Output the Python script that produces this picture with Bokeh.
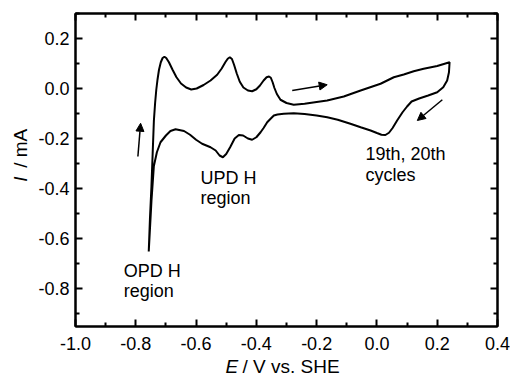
import math
from bokeh.plotting import figure
from bokeh.layouts import column, row
from bokeh.models import (Range1d, FixedTicker, LinearAxis, NumeralTickFormatter,
                          Label, Arrow, NormalHead, ColumnDataSource)
from bokeh.embed import file_html
from bokeh.resources import INLINE

# ---- data ----
# anodic sweep: from the OPD H turning point up to the positive vertex
anodic_E = [-0.757, -0.753, -0.748, -0.744, -0.740, -0.736, -0.732, -0.728, -0.723, -0.717,
            -0.711, -0.705, -0.699, -0.690, -0.678, -0.665, -0.650, -0.633, -0.616, -0.598,
            -0.575, -0.552, -0.530, -0.515, -0.503, -0.495, -0.488, -0.481, -0.474, -0.465,
            -0.455, -0.443, -0.428, -0.414, -0.400, -0.388, -0.376, -0.366, -0.358, -0.352,
            -0.346, -0.340, -0.332, -0.320, -0.300, -0.276, -0.240, -0.200, -0.165, -0.110,
            -0.054, 0.012, 0.056, 0.089, 0.122, 0.155, 0.200, 0.241]
anodic_I = [-0.652, -0.52, -0.39, -0.26, -0.13, -0.06, -0.005, 0.035, 0.075, 0.105,
            0.122, 0.127, 0.122, 0.105, 0.075, 0.045, 0.020, 0.004, -0.004, 0.000,
            0.014, 0.032, 0.055, 0.080, 0.105, 0.119, 0.125, 0.118, 0.095, 0.060,
            0.027, 0.004, -0.008, -0.011, -0.003, 0.012, 0.032, 0.045, 0.048, 0.043,
            0.025, 0.002, -0.022, -0.045, -0.058, -0.065, -0.061, -0.054, -0.048, -0.032,
            -0.008, 0.019, 0.045, 0.056, 0.069, 0.079, 0.090, 0.105]
# cathodic sweep: from the positive vertex back down to the OPD H region
cathodic_E = [0.241, 0.239, 0.233, 0.220, 0.200, 0.170, 0.140, 0.115, 0.100, 0.085,
              0.067, 0.052, 0.040, 0.028, 0.015, 0.000, -0.021, -0.054, -0.088, -0.130,
              -0.165, -0.200, -0.240, -0.276, -0.309, -0.330, -0.342, -0.352, -0.364, -0.376,
              -0.386, -0.400, -0.414, -0.428, -0.444, -0.458, -0.472, -0.487, -0.500, -0.511,
              -0.522, -0.535, -0.552, -0.566, -0.580, -0.600, -0.620, -0.640, -0.668, -0.685,
              -0.700, -0.718, -0.730, -0.740, -0.748, -0.757]
cathodic_I = [0.105, 0.065, 0.032, 0.005, -0.015, -0.028, -0.040, -0.052, -0.072, -0.095,
              -0.128, -0.158, -0.177, -0.186, -0.185, -0.178, -0.168, -0.155, -0.141, -0.125,
              -0.115, -0.108, -0.102, -0.099, -0.101, -0.104, -0.108, -0.120, -0.135, -0.158,
              -0.175, -0.195, -0.205, -0.200, -0.188, -0.186, -0.200, -0.235, -0.262, -0.275,
              -0.268, -0.248, -0.235, -0.228, -0.221, -0.205, -0.185, -0.170, -0.163, -0.170,
              -0.188, -0.215, -0.255, -0.310, -0.45, -0.652]

x_major = [-1.0, -0.8, -0.6, -0.4, -0.2, 0.0, 0.2, 0.4]
x_minor = [-0.9, -0.7, -0.5, -0.3, -0.1, 0.1, 0.3]
y_major = [-0.8, -0.6, -0.4, -0.2, 0.0, 0.2]
y_minor = [-0.9, -0.7, -0.5, -0.3, -0.1, 0.1, 0.3]

# sweep-direction arrows (start E, start I, end E, end I)
arrow_x0 = [-0.793, -0.281, 0.217]
arrow_y0 = [-0.272, -0.008, -0.045]
arrow_x1 = [-0.784, -0.165, 0.134]
arrow_y1 = [-0.139, 0.015, -0.128]

# annotation texts (lines, E of left edge, I of baseline)
notes = [("UPD H", -0.585, -0.356), ("region", -0.585, -0.436),
         ("OPD H", -0.840, -0.728), ("region", -0.840, -0.811),
         ("19th, 20th", -0.038, -0.261), ("cycles", -0.038, -0.344)]

FONT = "Liberation Sans"

# ---------- main chart ----------
p = figure(width=480, height=357, output_backend="svg", toolbar_location=None,
           x_range=Range1d(-1.0, 0.4), y_range=Range1d(-0.952, 0.3),
           x_axis_location=None, y_axis_location=None,
           min_border_left=45, min_border_right=13, min_border_top=13, min_border_bottom=31,
           background_fill_color="white", border_fill_color="white")
p.grid.grid_line_color = None
p.outline_line_color = "black"
p.outline_line_width = 2


def make_axis(ticks, minor, show_labels, standoff):
    ax = LinearAxis(ticker=FixedTicker(ticks=ticks, minor_ticks=minor),
                    formatter=NumeralTickFormatter(format="0.0"),
                    major_tick_in=7, major_tick_out=0, minor_tick_in=4, minor_tick_out=0,
                    major_tick_line_width=2, minor_tick_line_width=2,
                    major_tick_line_color="black", minor_tick_line_color="black",
                    axis_line_width=2, axis_line_color="black",
                    major_label_text_font=FONT, major_label_text_color="black",
                    major_label_standoff=standoff)
    if show_labels:
        ax.major_label_text_font_size = "18px"
    else:
        ax.major_label_text_font_size = "1px"
        ax.major_label_text_color = None
        ax.major_label_standoff = 0
    return ax


p.add_layout(make_axis(x_major, x_minor, True, 10), "below")
p.add_layout(make_axis(y_major, y_minor, True, 6), "left")
p.add_layout(make_axis(x_major, x_minor, False, 0), "above")
p.add_layout(make_axis(y_major, y_minor, False, 0), "right")

src = ColumnDataSource(data=dict(E=anodic_E + cathodic_E, I=anodic_I + cathodic_I))
p.line("E", "I", source=src, line_color="black", line_width=2)

for x0, y0, x1, y1 in zip(arrow_x0, arrow_y0, arrow_x1, arrow_y1):
    p.add_layout(Arrow(end=NormalHead(size=8, fill_color="black", line_color="black", line_width=1),
                       x_start=x0, y_start=y0, x_end=x1, y_end=y1,
                       line_color="black", line_width=1.5))

for txt, ex, iy in notes:
    p.add_layout(Label(x=ex, y=iy, text=txt, text_font=FONT, text_font_size="18px",
                       text_color="black", text_align="left", text_baseline="alphabetic"))


def text_fig(w, h):
    f = figure(width=w, height=h, output_backend="svg", toolbar_location=None,
               x_range=Range1d(0, w), y_range=Range1d(0, h),
               x_axis_location=None, y_axis_location=None,
               min_border=0, min_border_left=0, min_border_right=0,
               min_border_top=0, min_border_bottom=0,
               background_fill_color="white", border_fill_color="white")
    f.grid.grid_line_color = None
    f.outline_line_color = None
    return f


# ---------- y-axis title (left strip) ----------
yfig = text_fig(30, 357)
yfig.add_layout(Label(x=20, y=165, text="I", text_font=FONT, text_font_style="italic",
                      text_font_size="19px", angle=math.pi / 2, text_color="black",
                      text_align="left", text_baseline="alphabetic"))
yfig.add_layout(Label(x=20, y=181, text="/ mA", text_font=FONT, text_color="black",
                      text_font_size="19px", angle=math.pi / 2,
                      text_align="left", text_baseline="alphabetic"))

# ---------- x-axis title (bottom strip) ----------
xfig = text_fig(510, 20)
xfig.add_layout(Label(x=225, y=11, text="E", text_font=FONT, text_font_style="italic",
                      text_color="black", text_font_size="19px",
                      text_align="left", text_baseline="alphabetic"))
xfig.add_layout(Label(x=242, y=11, text="/ V vs. SHE", text_font=FONT, text_color="black",
                      text_font_size="19px", text_align="left", text_baseline="alphabetic"))

layout = column(row(yfig, p, spacing=0), xfig, spacing=0)
open("out.html", "w").write(file_html(layout, INLINE))
